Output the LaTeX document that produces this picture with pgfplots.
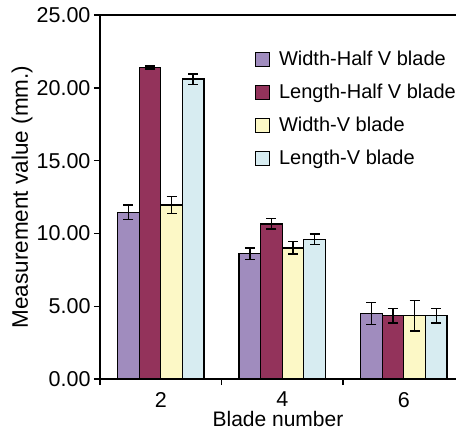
\documentclass[border=0pt]{standalone}
\usepackage{fontspec}
\setmainfont{Liberation Sans}
\usepackage{pgfplots}
\usepackage{pgfplotstable}
\pgfplotsset{compat=1.18}
\definecolor{cpur}{HTML}{A08CBE}
\definecolor{cred}{HTML}{93335B}
\definecolor{cyel}{HTML}{FCF8C6}
\definecolor{cblu}{HTML}{D7ECF1}
\pgfplotstableread{
x y e
1 11.45 0.5
2 8.6 0.4
3 4.5 0.75
}\whalf
\pgfplotstableread{
x y e
1 21.4 0.1
2 10.65 0.35
3 4.35 0.5
}\lhalf
\pgfplotstableread{
x y e
1 11.95 0.6
2 9.0 0.42
3 4.35 1.05
}\wv
\pgfplotstableread{
x y e
1 20.6 0.35
2 9.6 0.35
3 4.35 0.5
}\lv
\begin{document}
\begin{tikzpicture}
\useasboundingbox (-100pt,-53pt) rectangle (356pt,379pt);
\begin{axis}[
  at={(0pt,0pt)}, anchor=south west,
  scale only axis, width=356pt, height=364pt,
  xmin=0.5, xmax=3.43, ymin=0, ymax=25,
  axis x line=box, axis y line=left,
  axis line style={-, line width=1.4pt},
  tick pos=left, tick align=outside,
  ytick={0,5,10,15,20,25},
  /pgf/number format/assume math mode=true,
  yticklabel style={/pgf/number format/fixed, /pgf/number format/fixed zerofill, /pgf/number format/precision=2, font=\fontsize{21.5}{24}\selectfont},
  major tick length=6pt,
  tick style={line width=1.4pt, black},
  xtick={1,2,3}, xticklabels={2,4,6},
  x tick style={draw=none},
  xticklabel style={font=\fontsize{21.5}{24}\selectfont, inner sep=1pt, yshift=-6pt},
  minor xtick={0.5,1.5,2.5},
  minor x tick style={draw=black, line width=1.4pt},
  minor tick length=6pt,
  ybar=0pt, bar width=21.6pt,
  every axis y label/.style={at={(axis description cs:-0.219,0.5)}, rotate=90, anchor=center, font=\fontsize{22.5}{26}\selectfont},
  every axis x label/.style={at={(axis description cs:0.5,-0.111)}, anchor=center, inner sep=0pt, font=\fontsize{21}{25}\selectfont},
  ylabel={Measurement value (mm.)},
  xlabel={Blade number},
  error bars/error bar style={line width=1.3pt, black},
  error bars/error mark options={rotate=90, mark size=5pt, line width=1.3pt, black},
  legend style={at={(rel axis cs:0.426,0.912)}, anchor=north west, draw=none, fill=none,
    font=\fontsize{20}{23}\selectfont, row sep=13pt},
  legend cell align=left,
  legend image code/.code={\draw[#1, line width=1.2pt] (0pt,-7pt) rectangle (14pt,7pt); \path (21pt,0pt);},
]
\addplot[fill=cpur, draw=black, line width=1.2pt, error bars/.cd, y dir=both, y explicit] table[x=x,y=y,y error=e]{\whalf};
\addplot[fill=cred, draw=black, line width=1.2pt, error bars/.cd, y dir=both, y explicit] table[x=x,y=y,y error=e]{\lhalf};
\addplot[fill=cyel, draw=black, line width=1.2pt, error bars/.cd, y dir=both, y explicit] table[x=x,y=y,y error=e]{\wv};
\addplot[fill=cblu, draw=black, line width=1.2pt, error bars/.cd, y dir=both, y explicit] table[x=x,y=y,y error=e]{\lv};
\legend{Width-Half V blade, Length-Half V blade, Width-V blade, Length-V blade}
\end{axis}
\end{tikzpicture}
\end{document}
